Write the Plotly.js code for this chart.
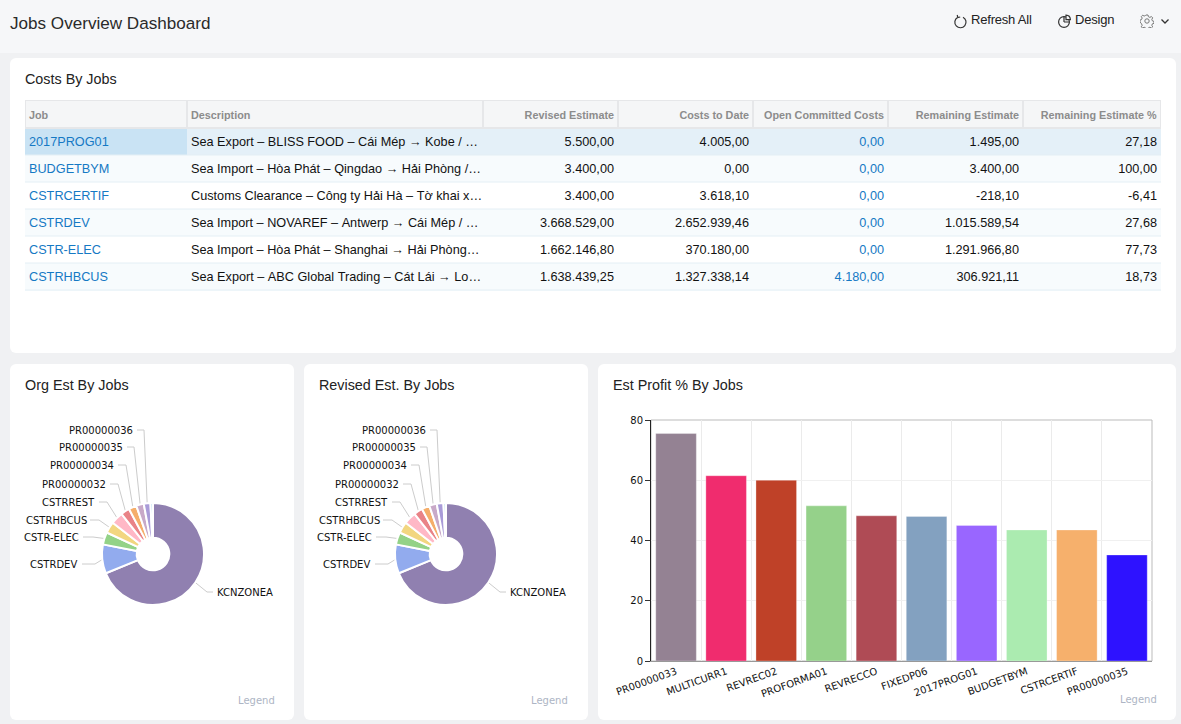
<!DOCTYPE html>
<html><head><meta charset="utf-8">
<script src="https://cdn.plot.ly/plotly-3.0.1.min.js"></script>
<style>
html,body{margin:0;padding:0;width:1181px;height:724px;overflow:hidden;background:#f0f1f3;font-family:"Liberation Sans",Arial,sans-serif;color:#222}
#top{position:absolute;left:0;top:0;width:1181px;height:53px;background:#f6f7f9}
.card{position:absolute;background:#fff;border-radius:6px}
.ct{position:absolute;font-size:14.35px;color:#222;white-space:nowrap}
.plot{position:absolute}
#title{position:absolute;left:10px;top:14px;font-size:17.1px;line-height:19px;color:#2a2a2a;white-space:nowrap}
.act{position:absolute;top:12px;font-size:13px;letter-spacing:-0.2px;color:#222;white-space:nowrap}
svg.ic{position:absolute}
</style></head><body>
<div id="top"></div>
<div id="title">Jobs Overview Dashboard</div>
<svg class="ic" style="left:953px;top:14px" width="15" height="15" viewBox="0 0 15 15" fill="none" stroke="#333" stroke-width="1.2"><path d="M4.5 3.4A5.6 5.6 0 1 0 10 3.2"/><path d="M4.2 1 L4.8 3.6 L7.2 3"/></svg>
<div class="act" style="left:971px">Refresh All</div>
<svg class="ic" style="left:1057px;top:14px" width="15" height="15" viewBox="0 0 15 15" fill="none" stroke="#333" stroke-width="1.2"><circle cx="7" cy="8" r="5.4"/><path d="M7 8V2.6M7 8H12.4"/><path d="M9 1.2a4.6 4.6 0 0 1 4.4 4.4H9z" fill="#f6f7f9"/></svg>
<div class="act" style="left:1075px">Design</div>
<svg class="ic" style="left:1140px;top:14px" width="14" height="14" viewBox="0 0 14 14" fill="none" stroke="#777" stroke-width="1"><circle cx="7" cy="7" r="2.2"/><path d="M6 1h2l.4 1.7 1.5.7 1.5-.9 1.3 1.4-.9 1.4.6 1.6 1.6.5v1.9l-1.6.5-.6 1.5.9 1.5-1.4 1.3-1.4-.9-1.6.7-.4 1.6H6l-.4-1.6-1.5-.7-1.5.9-1.3-1.3.9-1.5-.7-1.5L0 8V6.1l1.5-.5.7-1.6-.9-1.4 1.4-1.4 1.4.9 1.5-.7z"/></svg>
<svg class="ic" style="left:1160px;top:18px" width="10" height="7" viewBox="0 0 10 7" fill="none" stroke="#333" stroke-width="1.3"><path d="M1.5 1.5 5 5l3.5-3.5"/></svg>

<div class="card" style="left:10px;top:58px;width:1166px;height:295px"></div>
<div class="card" style="left:10px;top:364px;width:284px;height:356px"></div>
<div class="card" style="left:304px;top:364px;width:284px;height:356px"></div>
<div class="card" style="left:598px;top:364px;width:578px;height:356px"></div>
<div class="ct" style="left:25px;top:71px">Costs By Jobs</div>
<div class="ct" style="left:25px;top:377px">Org Est By Jobs</div>
<div class="ct" style="left:319px;top:377px">Revised Est. By Jobs</div>
<div class="ct" style="left:613px;top:377px">Est Profit % By Jobs</div>

<div id="tbl" class="plot" style="left:25px;top:100px;width:1136px;height:192px"></div>
<div id="pieA" class="plot" style="left:20px;top:400px;width:260px;height:310px"></div>
<div id="pieB" class="plot" style="left:313px;top:400px;width:260px;height:310px"></div>
<div id="bars" class="plot" style="left:613px;top:400px;width:548px;height:310px"></div>

<script>
// ---- table data ----
const tableHeaders = ["Job","Description","Revised Estimate","Costs to Date","Open Committed Costs","Remaining Estimate","Remaining Estimate %"];
const jobs = ["2017PROG01","BUDGETBYM","CSTRCERTIF","CSTRDEV","CSTR-ELEC","CSTRHBCUS"];
const descriptions = [
  "Sea Export – BLISS FOOD – Cái Mép → Kobe / …",
  "Sea Import – Hòa Phát – Qingdao → Hải Phòng /…",
  "Customs Clearance – Công ty Hải Hà – Tờ khai x…",
  "Sea Import – NOVAREF – Antwerp → Cái Mép / …",
  "Sea Import – Hòa Phát – Shanghai → Hải Phòng…",
  "Sea Export – ABC Global Trading – Cát Lái → Lo…"];
const revisedEstimate = ["5.500,00","3.400,00","3.400,00","3.668.529,00","1.662.146,80","1.638.439,25"];
const costsToDate = ["4.005,00","0,00","3.618,10","2.652.939,46","370.180,00","1.327.338,14"];
const openCommitted = ["0,00","0,00","0,00","0,00","0,00","4.180,00"];
const remainingEstimate = ["1.495,00","3.400,00","-218,10","1.015.589,54","1.291.966,80","306.921,11"];
const remainingPct = ["27,18","100,00","-6,41","27,68","77,73","18,73"];

// ---- pie data ----
const pieJobs = ["KCNZONEA","CSTRDEV","CSTR-ELEC","CSTRHBCUS","CSTRREST","PR00000032","PR00000034","PR00000035","PR00000036","Other"];
const orgEst = [68.9,9.2,3.9,3.6,3.9,2.8,2.5,2.4,2.1,0.8];
const revisedEst = [68.9,9.2,3.9,3.6,3.9,2.8,2.5,2.4,2.1,0.8];

// ---- bar data ----
const profitJobs = ["PR00000033","MULTICURR1","REVREC02","PROFORMA01","REVRECCO","FIXEDP06","2017PROG01","BUDGETBYM","CSTRCERTIF","PR00000035"];
const profitPct = [75.5,61.5,60.0,51.5,48.2,48.0,45.0,43.5,43.5,35.2];

// ---- styles ----
const pieColors = ["#9080B0","#92ABEE","#93D287","#F2D680","#FFB8C6","#E98387","#F5AE6A","#C8A9C8","#A99BD8","#B0DAF0"];
const barColors = ["#948293","#F02C6E","#BF4128","#95D18A","#AF4B55","#83A1C0","#9966FF","#ABEBB0","#F6B06C","#2E12FF"];
const chartFont = "'DejaVu Sans',sans-serif";
const tableFont = "'Liberation Sans',Arial,sans-serif";
const LEGEND_GRAY = "#ADB5C4";
const cfg = {displayModeBar:false,staticPlot:true};

// ---- table ----
const BLUE="#1579C4", INK="#111111";
const rowFill = ["#E4F0F8","#F7FBFD","#FFFFFF","#F7FBFD","#FFFFFF","#F7FBFD"];
const rowLine = "#E4EFF5";
const HEAD_H=28, ROW_H=27, TW=1136, TH=192;
const nCols = tableHeaders.length;
const fills = Array.from({length:nCols},(_,c)=> c===0 ? ["#C9E3F4",...rowFill.slice(1)] : rowFill);
const nb = s => s.replace(/ /g,"\u00A0");
const rightCols = [revisedEstimate,costsToDate,openCommitted,remainingEstimate,remainingPct];
const headerText = new Set(tableHeaders.map(nb));
const rightText = new Set([...tableHeaders.slice(2).map(nb),...rightCols.flat()]);
const rowSeps = jobs.map((_,i)=>{
  const y=1-(HEAD_H+ROW_H*(i+1))/TH;
  return {type:"line",xref:"paper",yref:"paper",x0:0,x1:1,y0:y,y1:y,line:{color:rowLine,width:1},layer:"above"};
});
Plotly.newPlot("tbl",[{
  type:"table",
  columnwidth:[162,296,135,135,135,135,138],
  domain:{x:[0,1],y:[0,1]},
  header:{
    values:tableHeaders.map(h=>"<b>"+nb(h)+"</b>"),
    align:["left","left","right","right","right","right","right"],
    height:HEAD_H,
    fill:{color:"#F5F6F7"},
    line:{color:"#E6E7E9",width:1.5},
    font:{family:tableFont,size:10.8,color:"#8C8C8C"}
  },
  cells:{
    values:[jobs,descriptions.map(nb),revisedEstimate,costsToDate,openCommitted,remainingEstimate,remainingPct],
    align:["left","left","right","right","right","right","right"],
    height:ROW_H,
    fill:{color:fills},
    line:{color:fills,width:1},
    font:{family:tableFont,size:12.7,color:[BLUE,INK,INK,INK,BLUE,INK,INK]}
  }
}],{width:TW,height:TH,margin:{l:0,r:0,t:0,b:0},paper_bgcolor:"rgba(0,0,0,0)",shapes:rowSeps},cfg).then(()=>{
  document.querySelectorAll("#tbl .cell-text").forEach(t=>{
    t.setAttribute("dx",rightText.has(t.textContent)?"4":"-4");
    if(headerText.has(t.textContent)) t.setAttribute("dy","1");
  });
});

// ---- pies ----
const PW=260,PH=310,CX=133,CY=154,R=51,RL=50;
const labelEnd = [195,59,61,69,77,88,96,105,115,0];   // text edge, px in plot
const labelY   = [192,164,137,120,102,84,65,47,30,0];
const elbowX   = [187,75,73,79,87,98,106,114,124,0];
const stemEnd  = [193,62,63,70,79,90,98,107,117,0];
function drawPie(id,vals){
  const total=vals.reduce((a,b)=>a+b,0);
  let cum=0; const shapes=[],ann=[];
  vals.forEach((v,i)=>{
    const mid=(cum+v/2)/total*2*Math.PI; cum+=v;
    if(!labelEnd[i]) return;
    const px=CX+RL*Math.sin(mid), py=CY-RL*Math.cos(mid);
    const path=`M${px/PW},${1-py/PH} L${elbowX[i]/PW},${1-labelY[i]/PH} L${stemEnd[i]/PW},${1-labelY[i]/PH}`;
    shapes.push({type:"path",xref:"paper",yref:"paper",path,line:{color:"#CCCCCC",width:1},layer:"below"});
    ann.push({xref:"paper",yref:"paper",x:labelEnd[i]/PW,y:1-labelY[i]/PH,text:pieJobs[i],showarrow:false,
      xanchor:i===0?"left":"right",yanchor:"middle",font:{family:chartFont,size:10,color:"#111"}});
  });
  ann.push({xref:"paper",yref:"paper",x:1,y:1-300/PH,text:"Legend",showarrow:false,xanchor:"right",yanchor:"middle",
    xshift:-3,font:{family:chartFont,size:10,color:LEGEND_GRAY}});
  Plotly.newPlot(id,[{
    type:"pie",labels:pieJobs,values:vals,sort:false,direction:"clockwise",rotation:0,hole:0.32,
    textinfo:"none",showlegend:false,
    marker:{colors:pieColors,line:{color:"#FFFFFF",width:2}},
    domain:{x:[(CX-R)/PW,(CX+R)/PW],y:[1-(CY+R)/PH,1-(CY-R)/PH]}
  }],{width:PW,height:PH,margin:{l:0,r:0,t:0,b:0},showlegend:false,paper_bgcolor:"rgba(0,0,0,0)",shapes,annotations:ann},cfg);
}
drawPie("pieA",orgEst);
drawPie("pieB",revisedEst);

// ---- bars ----
Plotly.newPlot("bars",[{
  type:"bar",x:profitJobs,y:profitPct,
  marker:{color:barColors,line:{color:"rgba(255,255,255,0.3)",width:1}}
}],{
  width:548,height:310,margin:{l:38,r:9,t:19.5,b:49},bargap:0.19,showlegend:false,
  paper_bgcolor:"rgba(0,0,0,0)",plot_bgcolor:"#fff",
  font:{family:chartFont,size:10,color:"#111"},
  xaxis:{type:"category",tickangle:-20,tickson:"boundaries",ticks:"",showgrid:true,gridcolor:"#EBEBEB",gridwidth:1,
    showline:true,linecolor:"#999",linewidth:1,tickfont:{family:chartFont,size:10,color:"#111"},automargin:false},
  yaxis:{range:[0,80],tickvals:[0,20,40,60,80],ticks:"outside",ticklen:5,tickcolor:"#333",tickwidth:1,showgrid:true,gridcolor:"#F0F0F0",gridwidth:1,
    zeroline:false,showline:true,linecolor:"#222",linewidth:1,tickfont:{family:chartFont,size:10,color:"#111"},automargin:false},
  shapes:[{type:"rect",xref:"paper",yref:"paper",x0:0,x1:1,y0:0,y1:1,line:{color:"#BBBBBB",width:1},layer:"below"}],
  annotations:[{xref:"paper",yref:"paper",x:1,y:-0.1615,text:"Legend",showarrow:false,xanchor:"right",yanchor:"middle",
    xshift:7,font:{family:chartFont,size:10,color:LEGEND_GRAY}}]
},cfg);
</script>
</body></html>
